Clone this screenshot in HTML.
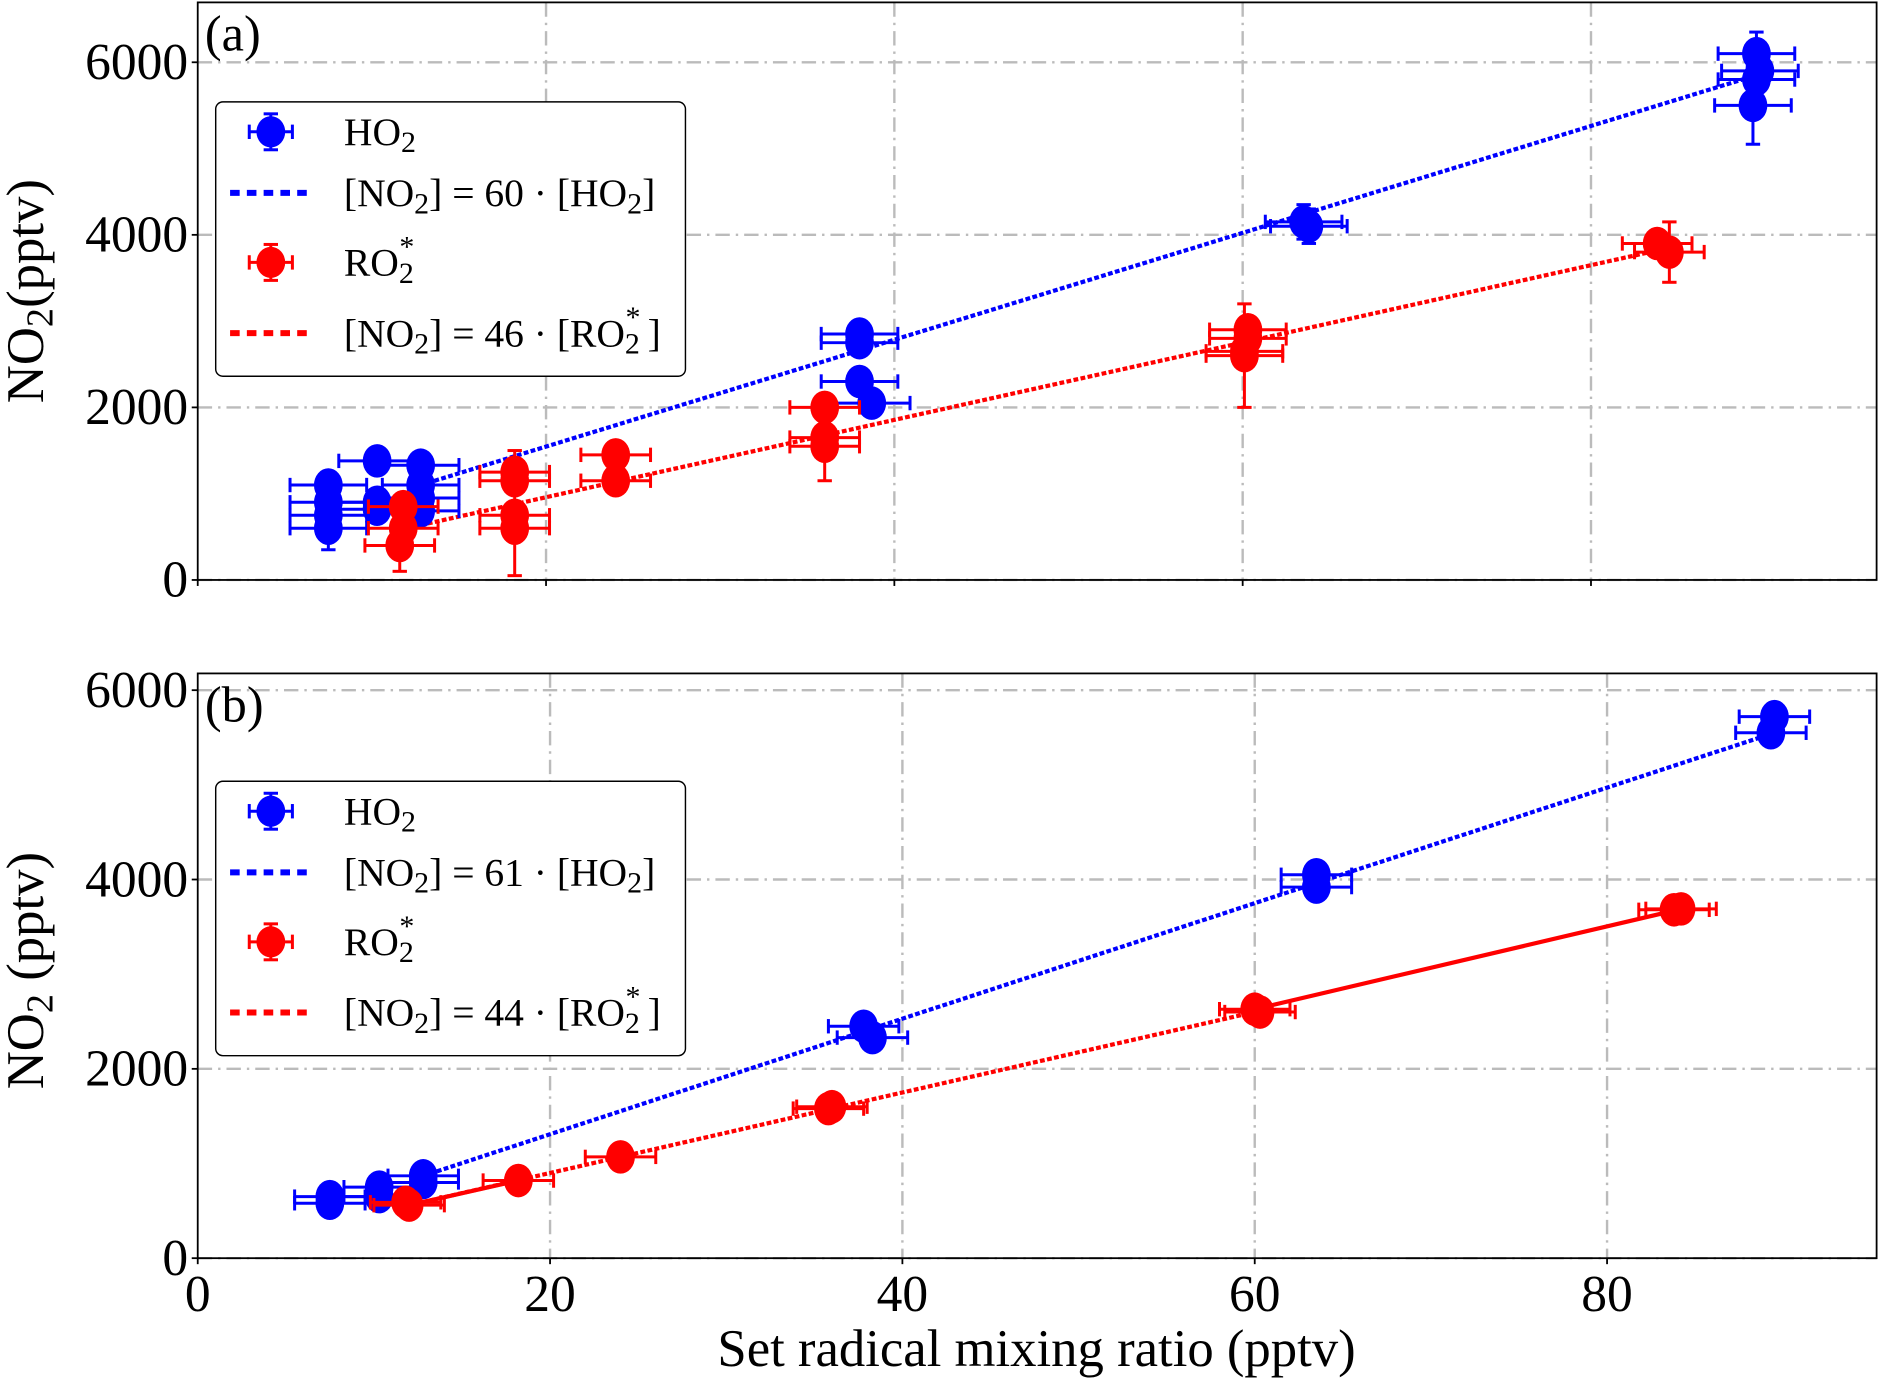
<!DOCTYPE html>
<html><head><meta charset="utf-8"><style>
html,body{margin:0;padding:0;background:#fff}
svg{display:block}
text{font-family:"Liberation Serif",serif;fill:#000}
</style></head><body>
<svg id="chart" width="1879" height="1378" viewBox="0 0 1568 1150" preserveAspectRatio="none" xmlns="http://www.w3.org/2000/svg"></svg>
<script>
// ---- Panel (a) data ----
const aHoX=[7.5,7.5,7.5,7.5,10.3,10.3,10.3,12.8,12.8,12.8,12.8,38,38,38,38.7,63.5,63.8,89.5,89.7,89.5,89.3];
const aHoY=[1100,900,750,600,1380,900,820,1330,1100,950,800,2850,2750,2300,2050,4150,4100,6100,5900,5800,5500];
const aHoYErr=[150,150,150,250,100,100,100,100,100,100,100,100,100,100,100,200,200,250,150,150,450];
const aHoXErr=[2.2,2.2,2.2,2.2,2.2,2.2,2.2,2.2,2.2,2.2,2.2,2.2,2.2,2.2,2.2,2.2,2.2,2.2,2.2,2.2,2.2];
const aRoX=[11.8,11.8,11.6,18.2,18.2,18.2,18.2,24,24,36,36,36,60.3,60.3,60.1,60.1,83.8,84.5];
const aRoY=[850,600,400,1250,1150,750,600,1450,1150,2000,1650,1550,2900,2800,2650,2600,3900,3800];
const aRoYErr=[100,100,300,250,150,150,550,100,100,100,200,400,150,150,150,600,150,350];
const aRoXErr=[2,2,2,2,2,2,2,2,2,2,2,2,2.2,2.2,2.2,2.2,2,2];
const aFitHoX=[12.8,89.5], aFitHoY=[1100,5850];
const aFitRoX=[12,84.5], aFitRoY=[600,3850];
// ---- Panel (b) data ----
const bHoX=[7.5,7.5,10.3,10.3,12.8,12.8,37.8,38.3,63.5,63.5,89.5,89.3];
const bHoY=[650,580,750,650,870,800,2450,2330,4050,3920,5720,5550];
const bRoX=[11.8,12,18.2,24,36,35.8,60,60.3,83.8,84.2];
const bRoY=[590,560,820,1070,1600,1580,2630,2600,3680,3690];
const bFitHoX=[12.8,89.5], bFitHoY=[870,5550];
const bFitRoX=[12,60], bFitRoY=[560,2600];
const bSolidRoX1=[12,18.2], bSolidRoY1=[560,820];
const bSolidRoX2=[60,84], bSolidRoY2=[2630,3680];
const yTicks=[0,2000,4000,6000];
const xTicks=[0,20,40,60,80];

const svg=document.getElementById('chart');
const NS='http://www.w3.org/2000/svg';
function mk(tag,attrs,parent){const e=document.createElementNS(NS,tag);for(const k in attrs)e.setAttribute(k,attrs[k]);(parent||svg).appendChild(e);return e;}

function panel(P){
  const g=mk('g',{});
  
  
  const sx=v=>P.L+(v-0)*(P.R-P.L)/P.xmax;
  const sy=v=>P.B-v*(P.B-P.T)/P.ymax;
  xTicks.forEach(t=>{if(t===0)return;const l=mk('line',{x1:sx(t),x2:sx(t),y1:P.T,y2:P.B,stroke:'#bbb','stroke-width':2,'stroke-dasharray':'12 5 2 5'},g);
    });
  yTicks.forEach(t=>{const l=mk('line',{x1:P.L,x2:P.R,y1:sy(t),y2:sy(t),stroke:'#bbb','stroke-width':2,'stroke-dasharray':'12 5 2 5'},g);
    });
  yTicks.forEach(t=>{mk('line',{x1:P.L-5,x2:P.L,y1:sy(t),y2:sy(t),stroke:'#000','stroke-width':1.5},g);
    const tx=mk('text',{x:P.L-8,y:sy(t)+14,'text-anchor':'end','font-size':43},g);tx.textContent=t;
    });
  xTicks.forEach(t=>{mk('line',{x1:sx(t),x2:sx(t),y1:P.B,y2:P.B+5,stroke:'#000','stroke-width':1.5},g);
    if(P.xlabels){const tx=mk('text',{x:sx(t),y:P.B+44,'text-anchor':'middle','font-size':43},g);tx.textContent=t;
    }});
  const fl=(X,Y,c,dash,name)=>{const l=mk('polyline',{points:X.map((x,i)=>sx(x)+','+sy(Y[i])).join(' '),fill:'none',stroke:c,'stroke-width':3.5,'stroke-dasharray':dash},g);
    };
  if(P.solid1X) fl(P.solid1X,P.solid1Y,'#f00','none','ro2-connecting-line-low');
  if(P.solid2X) fl(P.solid2X,P.solid2Y,'#f00','none','ro2-connecting-line-high');
  fl(P.fitHoX,P.fitHoY,'#00f','4 2','ho2-fit-line');
  fl(P.fitRoX,P.fitRoY,'#f00','4 2','ro2-fit-line');
  const pts=(X,Y,XE,YE,c,name)=>{X.forEach((x,i)=>{const pg=mk('g',{},g);
    
    const cx=sx(x),cy=sy(Y[i]),xe=XE[i]*(P.R-P.L)/P.xmax,ye=YE[i]*(P.B-P.T)/P.ymax;
    const s={stroke:c,'stroke-width':2.5};
    mk('line',Object.assign({x1:cx-xe,x2:cx+xe,y1:cy,y2:cy},s),pg);
    mk('line',Object.assign({x1:cx-xe,x2:cx-xe,y1:cy-6,y2:cy+6},s),pg);
    mk('line',Object.assign({x1:cx+xe,x2:cx+xe,y1:cy-6,y2:cy+6},s),pg);
    mk('line',Object.assign({x1:cx,x2:cx,y1:cy-ye,y2:cy+ye},s),pg);
    mk('line',Object.assign({x1:cx-6,x2:cx+6,y1:cy-ye,y2:cy-ye},s),pg);
    mk('line',Object.assign({x1:cx-6,x2:cx+6,y1:cy+ye,y2:cy+ye},s),pg);
    mk('ellipse',{cx:cx,cy:cy,rx:12,ry:14,fill:c},pg);});};
  pts(P.hoX,P.hoY,P.hoXE,P.hoYE,'#00f','ho2-point');
  pts(P.roX,P.roY,P.roXE,P.roYE,'#f00','ro2-point');
  const fr=mk('rect',{x:P.L,y:P.T,width:P.R-P.L,height:P.B-P.T,fill:'none',stroke:'#000','stroke-width':1.5},g);
  
  const pl=mk('text',{x:P.L+6,y:P.T+40,'font-size':42},g);pl.textContent=P.tag;
  
  const lg=mk('g',{},g);
  mk('rect',{x:180,y:P.legY,width:392,height:229,rx:6,fill:'#fff',stroke:'#000','stroke-width':1.2},lg);
  const rows=[P.legY+25,P.legY+76,P.legY+134,P.legY+193];
  const mark=(y,c)=>{mk('line',{x1:208,x2:244,y1:y,y2:y,stroke:c,'stroke-width':2.5},lg);mk('line',{x1:226,x2:226,y1:y-15,y2:y+15,stroke:c,'stroke-width':2.5},lg);
    [208,244].forEach(x=>mk('line',{x1:x,x2:x,y1:y-6,y2:y+6,stroke:c,'stroke-width':2.5},lg));
    [y-15,y+15].forEach(yy=>mk('line',{x1:220,x2:232,y1:yy,y2:yy,stroke:c,'stroke-width':2.5},lg));
    mk('ellipse',{cx:226,cy:y,rx:12,ry:13,fill:c},lg);};
  const dl=(y,c)=>mk('line',{x1:192,x2:256,y1:y,y2:y,stroke:c,'stroke-width':5,'stroke-dasharray':'8 6'},lg);
  mark(rows[0],'#00f');dl(rows[1],'#00f');mark(rows[2],'#f00');dl(rows[3],'#f00');
  const lbl=(y,html,name)=>{const t=mk('text',{x:287,y:y+11,'font-size':33},lg);t.innerHTML=html;
    };
  lbl(rows[0],'HO<tspan font-size="25" dy="6">2</tspan>','legend-ho2');
  lbl(rows[1],'[NO<tspan font-size="25" dy="6">2</tspan><tspan dy="-6">] = '+P.kHo+' · [HO</tspan><tspan font-size="25" dy="6">2</tspan><tspan dy="-6">]</tspan>','legend-ho2-fit');
  lbl(rows[2],'RO<tspan font-size="25" dy="6">2</tspan><tspan font-size="25" dx="-12" dy="-22">*</tspan>','legend-ro2');
  lbl(rows[3],'[NO<tspan font-size="25" dy="6">2</tspan><tspan dy="-6">] = '+P.kRo+' · [RO</tspan><tspan font-size="25" dy="6">2</tspan><tspan font-size="25" dx="-12" dy="-22">*</tspan><tspan dx="6" dy="16">]</tspan>','legend-ro2-fit');
}
panel({name:'panel-a',tag:'(a)',L:165,R:1566,T:2,B:484,xmax:96.4,ymax:6694,xlabels:false,
  hoX:aHoX,hoY:aHoY,hoXE:aHoXErr,hoYE:aHoYErr,roX:aRoX,roY:aRoY,roXE:aRoXErr,roYE:aRoYErr,
  fitHoX:aFitHoX,fitHoY:aFitHoY,fitRoX:aFitRoX,fitRoY:aFitRoY,legY:85,kHo:60,kRo:46});
panel({name:'panel-b',tag:'(b)',L:165,R:1566,T:562,B:1050,xmax:95.3,ymax:6177,xlabels:true,
  hoX:bHoX,hoY:bHoY,hoXE:bHoX.map(()=>2),hoYE:bHoX.map(()=>40),roX:bRoX,roY:bRoY,roXE:bRoX.map(()=>2),roYE:bRoX.map(()=>30),
  fitHoX:bFitHoX,fitHoY:bFitHoY,fitRoX:bFitRoX,fitRoY:bFitRoY,
  solid1X:bSolidRoX1,solid1Y:bSolidRoY1,solid2X:bSolidRoX2,solid2Y:bSolidRoY2,legY:652,kHo:61,kRo:44});
const yl1=mk('text',{x:0,y:0,'font-size':44,'text-anchor':'middle',transform:'translate(36,243) rotate(-90)'});
yl1.innerHTML='NO<tspan font-size="32" dy="8">2</tspan><tspan dy="-8">(pptv)</tspan>';

const yl2=mk('text',{x:0,y:0,'font-size':44,'text-anchor':'middle',transform:'translate(36,810) rotate(-90)'});
yl2.innerHTML='NO<tspan font-size="32" dy="8">2</tspan><tspan dy="-8"> (pptv)</tspan>';

const xl=mk('text',{x:865,y:1140,'font-size':44,'text-anchor':'middle'});xl.textContent='Set radical mixing ratio (pptv)';

</script>
</body></html>
